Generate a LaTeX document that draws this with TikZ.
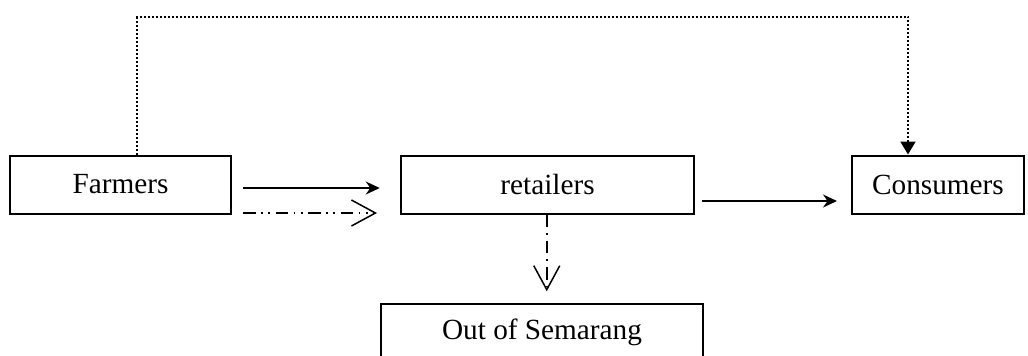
\documentclass[tikz,border=0pt]{standalone}
\usepackage{fontspec}
\setmainfont{Liberation Serif}
\usetikzlibrary{positioning, arrows.meta}

\begin{document}
\begin{tikzpicture}[
        x=0.4pt, y=-0.4pt,
        font=\fontsize{11.7}{14}\selectfont,
        box/.style={draw, rectangle, line width=0.8pt, minimum height=23.2pt, inner sep=0pt, align=center},
        flow/.style={-{Stealth[length=5.6pt, width=5.2pt]}, line width=0.6pt},
        other/.style={-{Straight Barb[length=9.6pt, width=10.4pt]}, line width=0.6pt},
        dashdotdot/.style={dash pattern=on 5pt off 2.2pt on 0.7pt off 2.2pt on 0.7pt off 2.2pt},
        dashdot/.style={dash pattern=on 5pt off 2.4pt on 0.7pt off 2.4pt},
        dotline/.style={-{Triangle[length=5.2pt, width=6pt]}, line width=0.8pt, dash pattern=on 0.8pt off 0.8pt}
    ]
    \useasboundingbox (0,0) rectangle (1028,355);

    \node[box, minimum width=88.4pt] (Farmers) at (120.5,184.5) {Farmers};
    \node[box, minimum width=117.2pt, right=67.2pt of Farmers] (Retailers) {retailers};
    \node[box, minimum width=68.8pt, right=62.4pt of Retailers] (Consumers) {Consumers};
    \node[box, minimum width=128.8pt, below=35.2pt of Retailers, xshift=-2.2pt] (OutSemarang) {Out of Semarang};

    \coordinate (Top) at (500,17);

    \draw[flow, shorten <=4.4pt, shorten >=8.1pt] ([yshift=-1.4pt]Farmers.east) -- ([yshift=-1.4pt]Retailers.west);
    \draw[other, dashdotdot, shorten <=4.4pt, shorten >=9.2pt] ([yshift=-11.4pt]Farmers.east) -- ([yshift=-11.4pt]Retailers.west);
    \draw[flow, shorten <=2.8pt, shorten >=5.6pt] ([yshift=-6.6pt]Retailers.east) -- ([yshift=-6.6pt]Consumers.west);
    \draw[other, dashdot, shorten >=4.5pt] ([xshift=-0.3pt]Retailers.south) -- ([xshift=-0.3pt]Retailers.south |- OutSemarang.north);
    \draw[dotline] ([xshift=6.6pt]Farmers.north) |- (Top) -| ([xshift=-12pt]Consumers.north);

\end{tikzpicture}
\end{document}
